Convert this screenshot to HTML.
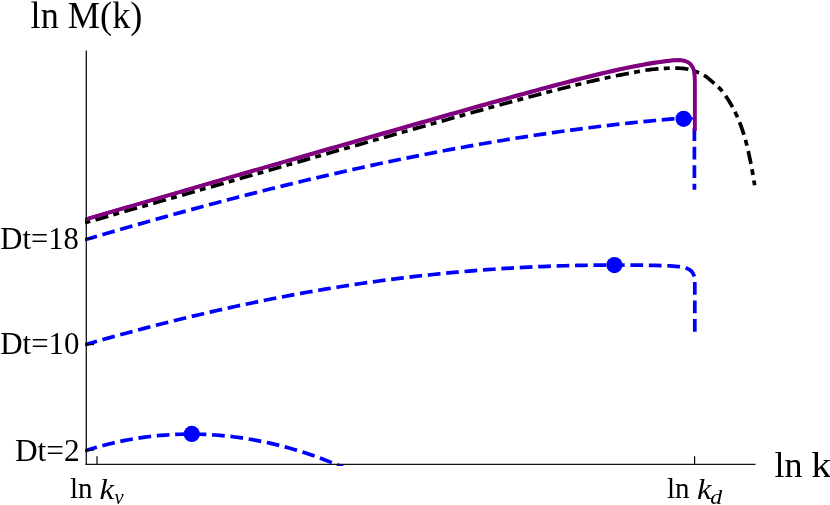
<!DOCTYPE html>
<html><head><meta charset="utf-8">
<style>
html,body{margin:0;padding:0;background:#fff;}
body{width:830px;height:505px;overflow:hidden;position:relative;}
svg{position:absolute;left:0;top:0;display:block;will-change:transform;}
text{font-family:"Liberation Serif",serif;fill:#000;}
</style></head><body>
<svg width="830" height="505" viewBox="0 0 830 505">
<defs><clipPath id="c"><rect x="85" y="40" width="681" height="426"/></clipPath></defs>
<rect width="830" height="505" fill="#fff"/>
<g fill="none" clip-path="url(#c)" stroke-linecap="butt" stroke-linejoin="round" stroke-width="3.7">
<path d="M85.00 239.81 L91.00 238.03 L97.00 236.27 L103.00 234.51 L109.00 232.76 L115.00 231.02 L121.00 229.28 L127.00 227.56 L133.00 225.84 L139.00 224.13 L145.00 222.43 L151.00 220.74 L157.00 219.05 L163.00 217.38 L169.00 215.71 L175.00 214.05 L181.00 212.40 L187.00 210.76 L193.00 209.13 L199.00 207.51 L205.00 205.90 L211.00 204.30 L217.00 202.71 L223.00 201.12 L229.00 199.55 L235.00 197.99 L241.00 196.44 L247.00 194.89 L253.00 193.36 L259.00 191.84 L265.00 190.33 L271.00 188.83 L277.00 187.34 L283.00 185.87 L289.00 184.40 L295.00 182.94 L301.00 181.50 L307.00 180.07 L313.00 178.65 L319.00 177.24 L325.00 175.84 L331.00 174.45 L337.00 173.08 L343.00 171.72 L349.00 170.37 L355.00 169.03 L361.00 167.71 L367.00 166.40 L373.00 165.10 L379.00 163.81 L385.00 162.54 L391.00 161.28 L397.00 160.03 L403.00 158.80 L409.00 157.58 L415.00 156.37 L421.00 155.18 L427.00 154.00 L433.00 152.83 L439.00 151.68 L445.00 150.54 L451.00 149.42 L457.00 148.31 L463.00 147.21 L469.00 146.13 L475.00 145.07 L481.00 144.02 L487.00 142.98 L493.00 141.96 L499.00 140.95 L505.00 139.96 L511.00 138.99 L517.00 138.03 L523.00 137.08 L529.00 136.15 L535.00 135.24 L541.00 134.35 L547.00 133.46 L553.00 132.60 L559.00 131.75 L565.00 130.92 L571.00 130.10 L577.00 129.30 L583.00 128.52 L589.00 127.76 L595.00 127.01 L601.00 126.28 L607.00 125.56 L613.00 124.86 L619.00 124.18 L625.00 123.52 L631.00 122.88 L637.00 122.25 L643.00 121.64 L649.00 121.05 L655.00 120.48 L661.00 119.92 L667.00 119.39 L673.00 118.87 L679.00 118.37 L685.00 117.89 L687.79 118.09 L690.13 118.47 L692.00 119.13 L693.37 120.18 L694.21 121.73 L694.50 123.89" stroke="#0000ff" stroke-dasharray="12.75 5.7" stroke-dashoffset="0.3"/>
<path d="M694.4 128.1 V189.7" stroke="#0000ff" stroke-dasharray="12.9 5.65"/>
<path d="M85.00 344.71 L91.00 342.98 L97.00 341.27 L103.00 339.57 L109.00 337.89 L115.00 336.23 L121.00 334.58 L127.00 332.95 L133.00 331.33 L139.00 329.73 L145.00 328.15 L151.00 326.58 L157.00 325.03 L163.00 323.50 L169.00 321.99 L175.00 320.49 L181.00 319.01 L187.00 317.55 L193.00 316.11 L199.00 314.68 L205.00 313.28 L211.00 311.89 L217.00 310.52 L223.00 309.17 L229.00 307.84 L235.00 306.53 L241.00 305.23 L247.00 303.96 L253.00 302.70 L259.00 301.47 L265.00 300.25 L271.00 299.06 L277.00 297.88 L283.00 296.72 L289.00 295.59 L295.00 294.47 L301.00 293.37 L307.00 292.30 L313.00 291.24 L319.00 290.21 L325.00 289.19 L331.00 288.20 L337.00 287.22 L343.00 286.27 L349.00 285.34 L355.00 284.43 L361.00 283.54 L367.00 282.67 L373.00 281.82 L379.00 280.99 L385.00 280.18 L391.00 279.40 L397.00 278.63 L403.00 277.89 L409.00 277.17 L415.00 276.46 L421.00 275.78 L427.00 275.12 L433.00 274.49 L439.00 273.87 L445.00 273.27 L451.00 272.70 L457.00 272.14 L463.00 271.61 L469.00 271.10 L475.00 270.61 L481.00 270.14 L487.00 269.69 L493.00 269.26 L499.00 268.85 L505.00 268.47 L511.00 268.10 L517.00 267.76 L523.00 267.43 L529.00 267.13 L535.00 266.85 L541.00 266.59 L547.00 266.35 L553.00 266.12 L559.00 265.92 L565.00 265.74 L571.00 265.58 L577.00 265.44 L583.00 265.32 L589.00 265.22 L595.00 265.14 L601.00 265.08 L607.00 265.04 L613.00 265.02 L619.00 265.01 L625.00 265.03 L631.00 265.07 L637.00 265.12 L643.00 265.19 L649.00 265.29 L655.00 265.40 L661.00 265.53 L670.00 265.88 L676.00 266.33 L678.49 266.57 L680.82 266.87 L682.98 267.25 L684.97 267.74 L686.79 268.34 L688.44 269.07 L689.90 269.95 L691.18 271.00 L692.27 272.24 L693.17 273.68 L693.88 275.34 L694.39 277.24 L694.70 279.40 L694.80 281.83 L694.80 333.40" stroke="#0000ff" stroke-dasharray="12.75 5.7" stroke-dashoffset="0.3"/>
<path d="M85.00 450.93 L90.00 449.31 L95.00 447.79 L100.00 446.35 L105.00 444.99 L110.00 443.72 L115.00 442.53 L120.00 441.43 L125.00 440.40 L130.00 439.46 L135.00 438.60 L140.00 437.81 L145.00 437.10 L150.00 436.47 L155.00 435.92 L160.00 435.44 L165.00 435.04 L170.00 434.71 L175.00 434.45 L180.00 434.27 L185.00 434.16 L190.00 434.12 L195.00 434.16 L200.00 434.27 L205.00 434.45 L210.00 434.70 L215.00 435.02 L220.00 435.41 L225.00 435.87 L230.00 436.40 L235.00 437.01 L240.00 437.68 L245.00 438.42 L250.00 439.23 L255.00 440.11 L260.00 441.07 L265.00 442.09 L270.00 443.18 L275.00 444.34 L280.00 445.58 L285.00 446.88 L290.00 448.26 L295.00 449.70 L300.00 451.22 L305.00 452.81 L310.00 454.48 L315.00 456.22 L320.00 458.03 L325.00 459.91 L330.00 461.87 L335.00 463.91 L340.00 466.02 L345.00 468.21 L350.00 470.47" stroke="#0000ff" stroke-dasharray="12.75 5.7" stroke-dashoffset="0.3"/>
<path d="M85.00 222.82 L91.00 221.09 L97.00 219.36 L103.00 217.64 L109.00 215.92 L115.00 214.21 L121.00 212.50 L127.00 210.79 L133.00 209.09 L139.00 207.38 L145.00 205.67 L151.00 203.97 L157.00 202.27 L163.00 200.56 L169.00 198.86 L175.00 197.15 L181.00 195.44 L187.00 193.73 L193.00 192.02 L199.00 190.30 L205.00 188.59 L211.00 186.87 L217.00 185.15 L223.00 183.42 L229.00 181.70 L235.00 179.98 L241.00 178.27 L247.00 176.55 L253.00 174.83 L259.00 173.11 L265.00 171.40 L271.00 169.69 L277.00 167.97 L283.00 166.26 L289.00 164.54 L295.00 162.83 L301.00 161.12 L307.00 159.40 L313.00 157.69 L319.00 155.97 L325.00 154.26 L331.00 152.54 L337.00 150.83 L343.00 149.12 L349.00 147.41 L355.00 145.70 L361.00 143.99 L367.00 142.28 L373.00 140.57 L379.00 138.86 L385.00 137.16 L391.00 135.46 L397.00 133.75 L403.00 132.05 L409.00 130.35 L415.00 128.65 L421.00 126.96 L427.00 125.26 L433.00 123.57 L439.00 121.88 L445.00 120.19 L451.00 118.50 L457.00 116.82 L463.00 115.14 L469.00 113.46 L475.00 111.78 L481.00 110.11 L487.00 108.45 L493.00 106.80 L499.00 105.15 L505.00 103.51 L511.00 101.88 L517.00 100.26 L523.00 98.66 L529.00 97.06 L535.00 95.47 L541.00 93.89 L547.00 92.32 L553.00 90.76 L559.00 89.22 L565.00 87.69 L571.00 86.19 L577.00 84.71 L583.00 83.25 L589.00 81.82 L595.00 80.42 L601.00 79.05 L607.00 77.73 L613.00 76.45 L614.00 76.24 L614.62 76.12 L615.44 75.95 L616.41 75.75 L617.50 75.53 L618.65 75.30 L619.81 75.07 L620.95 74.84 L622.00 74.64 L622.95 74.46 L623.84 74.29 L624.69 74.13 L625.56 73.97 L626.49 73.80 L627.51 73.61 L628.67 73.40 L630.00 73.15 L631.55 72.85 L633.30 72.50 L635.20 72.12 L637.19 71.72 L639.21 71.33 L641.23 70.95 L643.17 70.60 L645.00 70.30 L646.75 70.04 L648.50 69.81 L650.22 69.59 L651.91 69.40 L653.54 69.23 L655.11 69.07 L656.60 68.93 L658.00 68.80 L659.26 68.69 L660.38 68.60 L661.41 68.53 L662.38 68.47 L663.33 68.42 L664.30 68.38 L665.35 68.34 L666.50 68.30 L667.76 68.25 L669.09 68.20 L670.46 68.15 L671.88 68.10 L673.30 68.07 L674.73 68.05 L676.13 68.06 L677.50 68.10 L678.85 68.16 L680.19 68.24 L681.53 68.34 L682.86 68.46 L684.18 68.60 L685.48 68.77 L686.75 68.97 L688.00 69.20 L689.23 69.48 L690.46 69.80 L691.67 70.16 L692.86 70.54 L694.01 70.93 L695.13 71.33 L696.19 71.73 L697.20 72.10 L698.14 72.45 L699.00 72.79 L699.82 73.11 L700.59 73.44 L701.35 73.79 L702.09 74.16 L702.83 74.56 L703.60 75.00 L704.33 75.45 L705.00 75.86 L705.63 76.29 L706.27 76.75 L706.96 77.28 L707.73 77.91 L708.63 78.67 L709.70 79.60 L710.96 80.67 L712.37 81.83 L713.91 83.10 L715.54 84.48 L717.22 85.99 L718.92 87.62 L720.59 89.39 L722.20 91.30 L723.79 93.39 L725.42 95.65 L727.06 98.06 L728.70 100.59 L730.31 103.22 L731.88 105.92 L733.38 108.65 L734.80 111.40 L736.14 114.19 L737.43 117.06 L738.67 120.00 L739.86 122.99 L740.99 126.02 L742.08 129.08 L743.11 132.14 L744.10 135.20 L745.03 138.27 L745.89 141.37 L746.69 144.49 L747.45 147.62 L748.17 150.77 L748.86 153.92 L749.54 157.07 L750.20 160.20 L750.87 163.50 L751.54 167.04 L752.20 170.67 L752.83 174.26 L753.41 177.66 L753.93 180.71 L754.36 183.27 L754.70 185.20" stroke="#000" stroke-dasharray="13.25 5.3 5.95 5.5" stroke-dashoffset="19.1"/>
<path d="M85.00 219.59 L91.00 217.83 L97.00 216.07 L103.00 214.32 L109.00 212.58 L115.00 210.83 L121.00 209.09 L127.00 207.35 L133.00 205.61 L139.00 203.87 L145.00 202.13 L151.00 200.39 L157.00 198.65 L163.00 196.91 L169.00 195.18 L175.00 193.44 L181.00 191.71 L187.00 189.98 L193.00 188.24 L199.00 186.51 L205.00 184.78 L211.00 183.05 L217.00 181.32 L223.00 179.59 L229.00 177.87 L235.00 176.14 L241.00 174.41 L247.00 172.69 L253.00 170.97 L259.00 169.24 L265.00 167.52 L271.00 165.80 L277.00 164.08 L283.00 162.36 L289.00 160.64 L295.00 158.92 L301.00 157.21 L307.00 155.49 L313.00 153.78 L319.00 152.06 L325.00 150.35 L331.00 148.64 L337.00 146.92 L343.00 145.21 L349.00 143.51 L355.00 141.79 L361.00 140.06 L367.00 138.34 L373.00 136.62 L379.00 134.91 L385.00 133.19 L391.00 131.47 L397.00 129.76 L403.00 128.05 L409.00 126.33 L415.00 124.62 L421.00 122.92 L427.00 121.21 L433.00 119.50 L439.00 117.80 L445.00 116.10 L451.00 114.40 L457.00 112.71 L463.00 111.01 L469.00 109.32 L475.00 107.63 L481.00 105.95 L487.00 104.27 L493.00 102.59 L499.00 100.92 L505.00 99.25 L511.00 97.59 L517.00 95.93 L523.00 94.28 L529.00 92.64 L535.00 91.01 L541.00 89.38 L547.00 87.77 L553.00 86.17 L559.00 84.58 L565.00 83.00 L571.00 81.44 L577.00 79.90 L583.00 78.38 L589.00 76.88 L595.00 75.40 L601.00 73.96 L607.00 72.55 L613.00 71.17 L619.00 69.83 L625.00 68.54 L631.00 67.30 L637.00 66.12 L643.00 65.00 L649.00 63.96 L655.00 63.00 L660.00 62.27 L660.46 62.20 L661.08 62.12 L661.81 62.03 L662.62 61.92 L663.49 61.81 L664.36 61.69 L665.21 61.58 L666.00 61.48 L666.77 61.39 L667.56 61.29 L668.36 61.19 L669.15 61.09 L669.93 61.00 L670.67 60.91 L671.36 60.83 L672.00 60.76 L672.55 60.69 L673.02 60.63 L673.43 60.57 L673.82 60.52 L674.20 60.47 L674.61 60.44 L675.07 60.40 L675.60 60.38 L676.23 60.37 L676.92 60.36 L677.67 60.35 L678.44 60.36 L679.21 60.37 L679.96 60.39 L680.66 60.42 L681.30 60.46 L681.87 60.51 L682.38 60.56 L682.86 60.61 L683.32 60.68 L683.76 60.75 L684.19 60.85 L684.64 60.96 L685.10 61.10 L685.58 61.25 L686.07 61.43 L686.57 61.62 L687.06 61.83 L687.55 62.05 L688.02 62.29 L688.47 62.55 L688.90 62.83 L689.30 63.13 L689.69 63.44 L690.06 63.78 L690.42 64.12 L690.76 64.49 L691.09 64.88 L691.40 65.28 L691.70 65.70 L691.99 66.14 L692.26 66.60 L692.52 67.09 L692.77 67.59 L693.00 68.10 L693.22 68.62 L693.42 69.16 L693.60 69.70 L693.76 70.23 L693.91 70.73 L694.04 71.24 L694.15 71.76 L694.25 72.32 L694.34 72.93 L694.43 73.62 L694.50 74.40 L694.56 75.23 L694.61 76.08 L694.65 76.97 L694.68 77.93 L694.70 78.99 L694.72 80.17 L694.74 81.50 L694.75 83.00 L694.76 84.84 L694.77 87.06 L694.77 89.51 L694.77 92.04 L694.76 94.50 L694.76 96.75 L694.75 98.63 L694.75 100.00 L694.75 130.70" stroke="#800080" stroke-width="3.6"/>
<path d="M85.00 219.59 L91.00 217.83 L97.00 216.07 L103.00 214.31 L109.00 212.55 L115.00 210.80 L121.00 209.04 L127.00 207.28 L133.00 205.53 L139.00 203.77 L145.00 202.02 L151.00 200.27 L157.00 198.51 L163.00 196.76 L169.00 195.01 L175.00 193.26 L181.00 191.52 L187.00 189.77 L193.00 188.02 L199.00 186.27 L205.00 184.53 L211.00 182.79 L217.00 181.04 L223.00 179.30 L229.00 177.56 L235.00 175.82 L241.00 174.08 L247.00 172.34 L253.00 170.60 L259.00 168.86 L265.00 167.12 L271.00 165.39 L277.00 163.65 L283.00 161.92 L289.00 160.19 L295.00 158.45 L301.00 156.72 L307.00 154.99 L313.00 153.26 L319.00 151.54 L325.00 149.81 L331.00 148.08 L337.00 146.36 L343.00 144.63 L349.00 142.91 L355.00 141.19 L361.00 139.46 L367.00 137.74 L373.00 136.02 L379.00 134.31 L385.00 132.59 L391.00 130.87 L397.00 129.16 L403.00 127.45 L409.00 125.73 L415.00 124.02 L421.00 122.32 L427.00 120.61 L433.00 118.90 L439.00 117.20 L445.00 115.50 L451.00 113.80 L457.00 112.11 L463.00 110.41 L469.00 108.72 L475.00 107.03 L481.00 105.35 L487.00 103.67 L493.00 101.99 L499.00 100.32 L505.00 98.65 L511.00 96.99 L517.00 95.33 L523.00 93.68 L529.00 92.04 L535.00 90.41 L541.00 88.78 L547.00 87.17 L553.00 85.57 L559.00 83.98 L565.00 82.40 L571.00 80.84 L577.00 79.30 L583.00 77.78 L589.00 76.28 L595.00 74.80 L601.00 73.36 L607.00 71.95 L613.00 70.57 L619.00 69.23 L625.00 67.94 L631.00 66.70 L637.00 65.52 L643.00 64.40 L649.00 63.36 L655.00 62.40 L660.00 61.67 L660.46 61.60 L661.08 61.52 L661.81 61.42 L662.62 61.32 L663.49 61.20 L664.36 61.09 L665.21 60.98 L666.00 60.88 L666.77 60.79 L667.56 60.70 L668.36 60.61 L669.15 60.52 L669.93 60.43 L670.67 60.35 L671.36 60.28 L672.00 60.22 L672.55 60.16 L673.02 60.11 L673.43 60.06 L673.82 60.03 L674.20 59.99 L674.61 59.97 L675.07 59.96 L675.60 59.95 L676.23 59.95 L676.92 59.96 L677.67 59.98 L678.44 60.01 L679.21 60.05 L679.96 60.09 L680.66 60.14 L681.30 60.20 L681.87 60.26 L682.38 60.33 L682.86 60.40 L683.32 60.48 L683.76 60.57 L684.19 60.67 L684.64 60.80 L685.10 60.95 L685.58 61.12 L686.07 61.31 L686.57 61.52 L687.06 61.74 L687.55 61.98 L688.02 62.24 L688.47 62.51 L688.90 62.80 L689.30 63.10 L689.69 63.43 L690.06 63.76 L690.42 64.12 L690.76 64.49 L691.09 64.87 L691.40 65.28 L691.70 65.70 L691.99 66.14 L692.26 66.61 L692.52 67.09 L692.77 67.59 L693.00 68.10 L693.22 68.62 L693.42 69.16 L693.60 69.70 L693.76 70.23 L693.91 70.73 L694.04 71.24 L694.15 71.76 L694.25 72.32 L694.34 72.93 L694.43 73.62 L694.50 74.40 L694.56 75.23 L694.61 76.08 L694.65 76.97 L694.68 77.93 L694.70 78.99 L694.72 80.17 L694.74 81.50 L694.75 83.00 L694.76 84.84 L694.77 87.06 L694.77 89.51 L694.77 92.04 L694.76 94.50 L694.76 96.75 L694.75 98.63 L694.75 100.00 L694.75 130.70" stroke="#800080" stroke-width="3.6"/>
</g>
<g fill="#0000ff">
<circle cx="683.6" cy="118.8" r="8.1"/>
<circle cx="614.4" cy="265.1" r="8.1"/>
<circle cx="191.8" cy="433.9" r="8.1"/>
</g>
<g stroke="#111" stroke-width="1.35" fill="none">
<path d="M86.3 50.5 V464.97" stroke-width="1.3"/>
<path d="M85.65 464.35 H755.5" stroke-width="1.25"/>
</g>
<g stroke="#000" stroke-width="1.2" fill="none">
<path d="M97 464 V456.2"/>
<path d="M694.6 464 V456.2"/>
<path d="M86.3 238.5 H94"/>
<path d="M86.3 344.6 H94"/>
<path d="M86.3 450.1 H94"/>
</g>
<text x="30.6" y="27.6" font-size="37.8" textLength="111.8" lengthAdjust="spacingAndGlyphs">ln M(k)</text>
<text x="774.4" y="477.0" font-size="36.5" textLength="28.1" lengthAdjust="spacingAndGlyphs">ln</text>
<text transform="translate(811.2 477.0) scale(1.1 1)" font-size="36.5">k</text>
<text x="78.8" y="248.5" font-size="30.8" text-anchor="end" textLength="78.5" lengthAdjust="spacingAndGlyphs">Dt=18</text>
<text x="79.5" y="354.3" font-size="30.8" text-anchor="end" textLength="79.2" lengthAdjust="spacingAndGlyphs">Dt=10</text>
<text x="79.6" y="460.5" font-size="30.8" text-anchor="end" textLength="64.6" lengthAdjust="spacingAndGlyphs">Dt=2</text>
<text x="69.9" y="498.3" font-size="29">ln</text>
<text transform="translate(99.6 498.5) scale(1.13 1)" font-size="29" font-style="italic">k</text>
<text transform="translate(114.5 503.9) scale(0.95 1)" font-size="21.5" font-style="italic">ν</text>
<text x="667" y="498.4" font-size="29">ln</text>
<text transform="translate(696.9 498.6) scale(1.12 1)" font-size="29" font-style="italic">k</text>
<text transform="translate(710.3 503.7) scale(1.08 1)" font-size="22" font-style="italic">d</text>
</svg>
</body></html>
